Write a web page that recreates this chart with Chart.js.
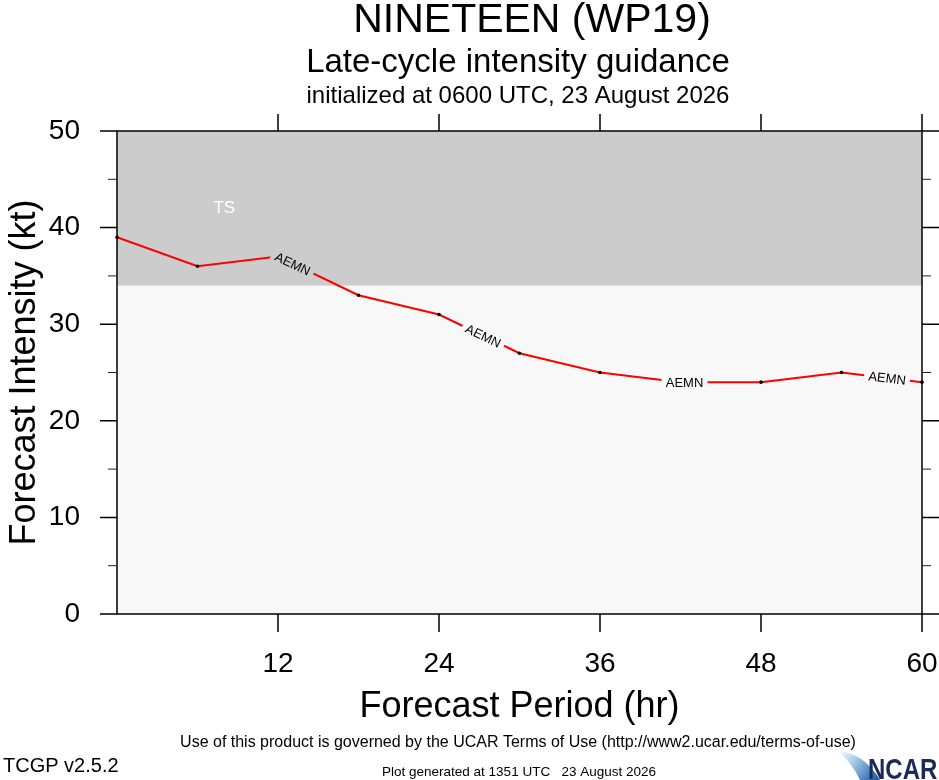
<!DOCTYPE html>
<html>
<head>
<meta charset="utf-8">
<title>NINETEEN (WP19) intensity guidance</title>
<script src="https://cdn.jsdelivr.net/npm/chart.js@4.4.0/dist/chart.umd.min.js"></script>
<style>
  html, body { margin: 0; padding: 0; background: #ffffff; overflow: hidden; }
  #intensity-chart { display: block; }
</style>
</head>
<body>
<canvas id="intensity-chart" width="939" height="780"></canvas>
<script>
// forecast hours and AEMN intensity (kt)
const forecastHours = [0, 6, 12, 18, 24, 30, 36, 42, 48, 54, 60];
const aemnIntensity = [39, 36, 37, 33, 31, 27, 25, 24, 24, 25, 24];
const xTickValues = [12, 24, 36, 48, 60];
const yTickValues = [0, 10, 20, 30, 40, 50];
const yMinorTicks = [5, 15, 25, 35, 45];
// hours along the track where the model name is written
const labelHours = [13.1, 27.3, 42.3, 57.4];
const modelName = 'AEMN';
const tsBand = { from: 34, to: 50, label: 'TS', labelHour: 8, labelKt: 42 };

const FONT = '"Liberation Sans", Arial, Helvetica, sans-serif';

function intensityAt(h) {
    for (let i = 0; i < forecastHours.length - 1; i++) {
        const h0 = forecastHours[i], h1 = forecastHours[i + 1];
        if (h >= h0 && h <= h1) {
            const t = (h - h0) / (h1 - h0);
            return { y: aemnIntensity[i] + t * (aemnIntensity[i + 1] - aemnIntensity[i]), seg: i };
        }
    }
    return { y: aemnIntensity[aemnIntensity.length - 1], seg: forecastHours.length - 2 };
}

const backgroundPlugin = {
    id: 'background',
    beforeDraw(chart) {
        const { ctx, chartArea: a, scales } = chart;
        ctx.save();
        ctx.fillStyle = '#ffffff';
        ctx.fillRect(0, 0, chart.width, chart.height);
        ctx.fillStyle = '#f8f8f8';
        ctx.fillRect(a.left, a.top, a.right - a.left, a.bottom - a.top);
        const yTop = scales.y.getPixelForValue(tsBand.to);
        const yBot = scales.y.getPixelForValue(tsBand.from);
        ctx.fillStyle = '#cccccc';
        ctx.fillRect(a.left, yTop, a.right - a.left, yBot - yTop);
        ctx.fillStyle = '#ffffff';
        ctx.font = '17px ' + FONT;
        ctx.textAlign = 'center';
        ctx.textBaseline = 'middle';
        ctx.fillText(tsBand.label, scales.x.getPixelForValue(tsBand.labelHour), scales.y.getPixelForValue(tsBand.labelKt));
        ctx.restore();
    }
};

const frameAndTextPlugin = {
    id: 'frameAndText',
    afterDatasetsDraw(chart) {
        const { ctx, chartArea: a, scales } = chart;
        const x = scales.x, y = scales.y;
        ctx.save();

        // model name written along the line, with a gap cut out
        labelHours.forEach(h => {
            const r = intensityAt(h);
            const i = r.seg;
            const px0 = x.getPixelForValue(forecastHours[i]);
            const py0 = y.getPixelForValue(aemnIntensity[i]);
            const px1 = x.getPixelForValue(forecastHours[i + 1]);
            const py1 = y.getPixelForValue(aemnIntensity[i + 1]);
            const ang = Math.atan2(py1 - py0, px1 - px0);
            const cx = x.getPixelForValue(h);
            const cy = y.getPixelForValue(r.y);
            ctx.save();
            ctx.translate(cx, cy);
            ctx.rotate(ang);
            ctx.fillStyle = r.y >= tsBand.from ? '#cccccc' : '#f8f8f8';
            ctx.fillRect(-23, -7, 46, 14);
            ctx.fillStyle = '#000000';
            ctx.font = '13px ' + FONT;
            ctx.textAlign = 'center';
            ctx.textBaseline = 'middle';
            ctx.fillText(modelName, 0, 1);
            ctx.restore();
        });

        // frame
        ctx.strokeStyle = '#000000';
        ctx.lineWidth = 1.5;
        ctx.strokeRect(a.left, a.top, a.right - a.left, a.bottom - a.top);

        // ticks: majors outward on all sides, minors on left/right
        ctx.beginPath();
        yTickValues.forEach(v => {
            const py = y.getPixelForValue(v);
            ctx.moveTo(a.left - 17, py); ctx.lineTo(a.left, py);
            ctx.moveTo(a.right, py); ctx.lineTo(a.right + 17, py);
        });
        xTickValues.forEach(v => {
            const px = x.getPixelForValue(v);
            ctx.moveTo(px, a.top); ctx.lineTo(px, a.top - 17);
            ctx.moveTo(px, a.bottom); ctx.lineTo(px, a.bottom + 18);
        });
        ctx.stroke();
        ctx.lineWidth = 1;
        ctx.strokeStyle = '#222222';
        ctx.beginPath();
        yMinorTicks.forEach(v => {
            const py = y.getPixelForValue(v);
            ctx.moveTo(a.left - 9, py); ctx.lineTo(a.left, py);
            ctx.moveTo(a.right, py); ctx.lineTo(a.right + 9, py);
        });
        ctx.stroke();
        ctx.restore();
    },
    afterDraw(chart) {
        const ctx = chart.ctx;
        ctx.save();
        ctx.fillStyle = '#000000';
        ctx.textAlign = 'center';
        ctx.textBaseline = 'alphabetic';
        ctx.font = '41px ' + FONT;
        ctx.fillText('NINETEEN (WP19)', 532, 32);
        ctx.font = '33px ' + FONT;
        ctx.fillText('Late-cycle intensity guidance', 518, 72);
        ctx.font = '24px ' + FONT;
        ctx.fillText('initialized at 0600 UTC, 23 August 2026', 518, 103);

        ctx.textBaseline = 'middle';
        ctx.font = '16px ' + FONT;
        ctx.fillText('Use of this product is governed by the UCAR Terms of Use (http://www2.ucar.edu/terms-of-use)', 518, 743);
        ctx.font = '13.5px ' + FONT;
        ctx.fillText('Plot generated at 1351 UTC   23 August 2026', 519, 772);
        ctx.textAlign = 'left';
        ctx.font = '20px ' + FONT;
        ctx.fillText('TCGP v2.5.2', 3, 766);

        // NCAR logo
        const g = ctx.createLinearGradient(838, 750, 876, 780);
        g.addColorStop(0, '#ffffff');
        g.addColorStop(0.4, '#a9cbe9');
        g.addColorStop(1, '#1f5fae');
        ctx.fillStyle = g;
        ctx.beginPath();
        ctx.moveTo(838, 751);
        ctx.quadraticCurveTo(864, 753, 880, 780);
        ctx.lineTo(860, 780);
        ctx.quadraticCurveTo(852, 763, 838, 751);
        ctx.fill();
        ctx.fillStyle = '#1b2a56';
        ctx.font = 'bold 30px ' + FONT;
        ctx.textBaseline = 'alphabetic';
        ctx.translate(868, 779);
        ctx.scale(0.8, 1);
        ctx.fillText('NCAR', 0, 0);
        ctx.restore();
    }
};

const ctx = document.getElementById('intensity-chart').getContext('2d');
const chart = new Chart(ctx, {
    type: 'line',
    data: {
        datasets: [{
            label: modelName,
            data: forecastHours.map((h, i) => ({ x: h, y: aemnIntensity[i] })),
            borderColor: '#ff0000',
            borderWidth: 2,
            pointRadius: 1.8,
            pointBackgroundColor: '#000000',
            pointBorderWidth: 0,
            tension: 0,
            clip: false
        }]
    },
    options: {
        responsive: false,
        animation: false,
        devicePixelRatio: 1,
        layout: { padding: { top: 131, right: 17, bottom: 51, left: 0 } },
        plugins: {
            legend: { display: false },
            tooltip: { enabled: false }
        },
        scales: {
            x: {
                type: 'linear',
                min: 0,
                max: 60,
                afterFit(scale) {
                    scale.height = 115;
                    scale.paddingLeft = 0;
                    scale.paddingRight = 0;
                },
                afterBuildTicks(scale) { scale.ticks = xTickValues.map(v => ({ value: v })); },
                grid: { display: false, drawTicks: false },
                border: { display: false },
                ticks: {
                    padding: 33,
                    color: '#000000',
                    maxRotation: 0,
                    font: { family: FONT, size: 28 }
                },
                title: {
                    display: true,
                    text: 'Forecast Period (hr)',
                    color: '#000000',
                    font: { family: FONT, size: 36 },
                    padding: { top: 0, bottom: 0 }
                }
            },
            y: {
                min: 0,
                max: 50,
                afterFit(scale) {
                    scale.width = 117;
                    scale.paddingTop = 0;
                    scale.paddingBottom = 0;
                },
                afterBuildTicks(scale) { scale.ticks = yTickValues.map(v => ({ value: v })); },
                grid: { display: false, drawTicks: false },
                border: { display: false },
                ticks: {
                    padding: 37,
                    color: '#000000',
                    font: { family: FONT, size: 28 }
                },
                title: {
                    display: true,
                    text: 'Forecast Intensity (kt)',
                    color: '#000000',
                    font: { family: FONT, size: 36 },
                    padding: { top: 3, bottom: 0 }
                }
            }
        }
    },
    plugins: [backgroundPlugin, frameAndTextPlugin]
});
</script>
</body>
</html>
